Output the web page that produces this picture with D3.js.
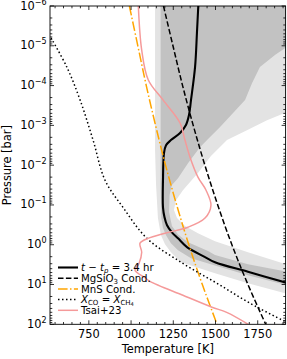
<!DOCTYPE html>
<html>
<head>
<meta charset="utf-8">
<script src="https://cdn.jsdelivr.net/npm/d3@7"></script>
<style>
  body { margin: 0; background: #fff; }
  svg text { font-family: "DejaVu Sans", sans-serif; fill: #000; }
</style>
</head>
<body>
<svg id="chart" width="287" height="359"></svg>
<script>
// values: [temperature K, log10 pressure bar]
var profile = [[1398,-6],[1390,-5.32],[1379,-4.47],[1355,-3.64],[1343,-3.26],[1325,-3.01],[1290,-2.81],
  [1236,-2.63],[1207,-2.5],[1195,-2.3],[1189,-1.62],[1189,-0.94],[1198,-0.69],[1213,-0.49],[1242,-0.31],
  [1278,-0.16],[1331,0.06],[1438,0.31],[1497,0.44],[1692,0.68],[1923,0.96]];
var mgsio3 = [[1192,-6],[1248,-5],[1305,-4],[1368,-3],[1437,-2],[1513,-1],[1597,0],[1692,1],[1797,2]];
var mns = [[990,-6],[1040,-5],[1090,-4],[1145,-3],[1204,-2],[1270,-1],[1342,0],[1422,1],[1509,2]];
var coch4 = [[526,-5.2],[619,-4.47],[698,-3.64],[775,-2.63],[846,-1.62],[952,-0.94],
  [1094,-0.16],[1307,0.47],[1509,0.97],[1704,1.47],[1916,1.94]];
var tsai = [[1043,-6],[1063,-4.89],[1102,-4.14],[1189,-3.64],[1290,-3.06],[1319,-2.63],[1349,-2.2],
  [1396,-1.7],[1444,-1.37],[1473,-0.99],[1438,-0.67],[1337,-0.44],[1201,-0.29],[1100,-0.16],[1053,-0.04],
  [1063,0.19],[1047,0.47],[1023,0.64],[1080,0.82],[1112,0.92],[1307,1.27],[1479,1.57],[1566,1.7],[1694,2]];
var bandInner = [[1175,-6.1],[1175,-1.5],[1179,-0.67],[1189,-0.42],[1207,-0.24],[1236,-0.04],[1278,0.14],
  [1355,0.34],[1497,0.52],[1692,0.77],[1941,1.04],[1941,0.69],[1692,0.49],[1497,0.26],[1456,0.16],
  [1337,-0.06],[1278,-0.26],[1242,-0.47],[1225,-0.82],[1228,-1.25],[1242,-1.5],[1278,-1.67],[1337,-2.05],
  [1408,-2.45],[1450,-2.63],[1527,-2.96],[1604,-3.31],[1675,-3.64],[1716,-4.06],[1763,-4.47],[1852,-4.77],
  [1923,-4.97],[1941,-4.97],[1941,-6.1]];
var bandOuter = [[1142,-6.1],[1142,-2.38],[1148,-1.5],[1159,-0.67],[1177,-0.24],[1201,-0.01],[1236,0.19],
  [1296,0.44],[1497,0.72],[1692,0.97],[1941,1.25],[1941,0.52],[1692,0.19],[1497,-0.09],[1396,-0.29],
  [1319,-0.47],[1272,-0.67],[1254,-0.87],[1266,-1.12],[1307,-1.37],[1396,-1.8],[1473,-2.23],[1568,-2.63],
  [1686,-2.88],[1805,-3.13],[1923,-3.33],[1941,-3.33],[1941,-6.1]];
var tempTicks = [750, 1000, 1250, 1500, 1750];
var pressExps = [-6, -5, -4, -3, -2, -1, 0, 1, 2];

var svg = d3.select("#chart"),
    margin = { top: 6, right: 1.4, bottom: 34.7, left: 50 },
    width = +svg.attr("width") - margin.left - margin.right,
    height = +svg.attr("height") - margin.top - margin.bottom;

var x = d3.scaleLinear().domain([520, 1915]).range([0, width]),
    y = d3.scaleLog().domain([1e-6, 1e2]).range([0, height]);

var g = svg.append("g").attr("transform", "translate(" + margin.left + "," + margin.top + ")");

g.append("clipPath").attr("id", "clip")
  .append("rect").attr("width", width).attr("height", height);

var plot = g.append("g").attr("clip-path", "url(#clip)");

var line = d3.line()
  .x(function (d) { return x(d[0]); })
  .y(function (d) { return y(Math.pow(10, d[1])); })
  .curve(d3.curveCatmullRom);
var poly = d3.line()
  .x(function (d) { return x(d[0]); })
  .y(function (d) { return y(Math.pow(10, d[1])); })
  .curve(d3.curveLinearClosed);

plot.append("path").attr("d", poly(bandOuter)).attr("fill", "#e3e3e3");
plot.append("path").attr("d", poly(bandInner)).attr("fill", "#c2c2c2");

var styles = [
  { data: profile, color: "#000", w: 2.1, dash: null },
  { data: mgsio3, color: "#000", w: 1.5, dash: "5.5,2.4" },
  { data: mns, color: "#ffa500", w: 1.5, dash: "9.6,2.4,1.5,2.4" },
  { data: coch4, color: "#000", w: 1.5, dash: "1.5,2.5" },
  { data: tsai, color: "#f59a9a", w: 1.5, dash: null }
];
styles.forEach(function (s) {
  plot.append("path").attr("d", line(s.data))
    .attr("fill", "none").attr("stroke", s.color).attr("stroke-width", s.w)
    .attr("stroke-dasharray", s.dash);
});

// axes, ticks pointing in on all sides
var minorT = d3.range(550, 1915, 50).filter(function (t) { return t % 250 !== 0; });
var minorP = [];
pressExps.slice(0, -1).forEach(function (e) {
  for (var k = 2; k <= 9; k++) minorP.push(k * Math.pow(10, e));
});

function tickSet(sel, vals, len, horizontal) {
  vals.forEach(function (v) {
    if (horizontal) {
      sel.append("line").attr("x1", x(v)).attr("x2", x(v)).attr("y1", height).attr("y2", height - len);
      sel.append("line").attr("x1", x(v)).attr("x2", x(v)).attr("y1", 0).attr("y2", len);
    } else {
      sel.append("line").attr("y1", y(v)).attr("y2", y(v)).attr("x1", 0).attr("x2", len);
      sel.append("line").attr("y1", y(v)).attr("y2", y(v)).attr("x1", width).attr("x2", width - len);
    }
  });
}
var ticks = g.append("g").attr("stroke", "#000").attr("stroke-width", 0.8);
tickSet(ticks, tempTicks, 4, true);
tickSet(ticks, minorT, 2.3, true);
tickSet(ticks, pressExps.map(function (e) { return Math.pow(10, e); }), 4, false);
tickSet(ticks, minorP, 2.3, false);

g.append("rect").attr("width", width).attr("height", height)
  .attr("fill", "none").attr("stroke", "#000").attr("stroke-width", 0.9);

g.selectAll(".xlab").data(tempTicks).enter().append("text")
  .attr("class", "xlab").attr("x", function (d) { return x(d); }).attr("y", height + 13.2)
  .attr("text-anchor", "middle").attr("font-size", 11.4).text(function (d) { return d; });

var ylab = g.selectAll(".ylab").data(pressExps).enter().append("text")
  .attr("class", "ylab").attr("x", -3.4).attr("y", function (d) { return y(Math.pow(10, d)) + 3.5; })
  .attr("text-anchor", "end").attr("font-size", 11.4);
ylab.append("tspan").text("10");
ylab.append("tspan").attr("dy", -5).attr("font-size", 8)
  .text(function (d) { return d < 0 ? "\u2212" + (-d) : d; });

g.append("text").attr("x", width / 2).attr("y", height + 28.5)
  .attr("text-anchor", "middle").attr("font-size", 11.4).text("Temperature [K]");
g.append("text").attr("transform", "translate(-39," + (height / 2) + ") rotate(-90)")
  .attr("text-anchor", "middle").attr("font-size", 11.4).text("Pressure [bar]");

// legend
var legend = g.append("g").attr("transform", "translate(8,261.5)");
var rowH = 10.7;
styles.forEach(function (s, i) {
  legend.append("line").attr("x1", 0).attr("x2", 20).attr("y1", i * rowH).attr("y2", i * rowH)
    .attr("stroke", s.color).attr("stroke-width", s.w).attr("stroke-dasharray", s.dash);
});
function label(i) {
  return legend.append("text").attr("x", 23).attr("y", i * rowH + 3.6).attr("font-size", 10.2);
}
var l0 = label(0);
l0.append("tspan").attr("font-style", "italic").text("t");
l0.append("tspan").text(" \u2212 ");
l0.append("tspan").attr("font-style", "italic").text("t");
l0.append("tspan").attr("font-style", "italic").attr("font-size", 7).attr("dy", 1.8).text("p");
l0.append("tspan").attr("dy", -1.8).text(" = 3.4 hr");
var l1 = label(1);
l1.append("tspan").text("MgSiO");
l1.append("tspan").attr("font-size", 7).attr("dy", 1.8).text("3");
l1.append("tspan").attr("dy", -1.8).text(" Cond.");
label(2).text("MnS Cond.");
var l3 = label(3);
l3.append("tspan").attr("font-style", "italic").text("X");
l3.append("tspan").attr("font-size", 7).attr("dy", 1.8).text("CO");
l3.append("tspan").attr("dy", -1.8).text(" = ");
l3.append("tspan").attr("font-style", "italic").text("X");
l3.append("tspan").attr("font-size", 7).attr("dy", 1.8).text("CH");
l3.append("tspan").attr("font-size", 5.2).attr("dy", 1).text("4");
label(4).text("Tsai+23");
</script>
</body>
</html>
